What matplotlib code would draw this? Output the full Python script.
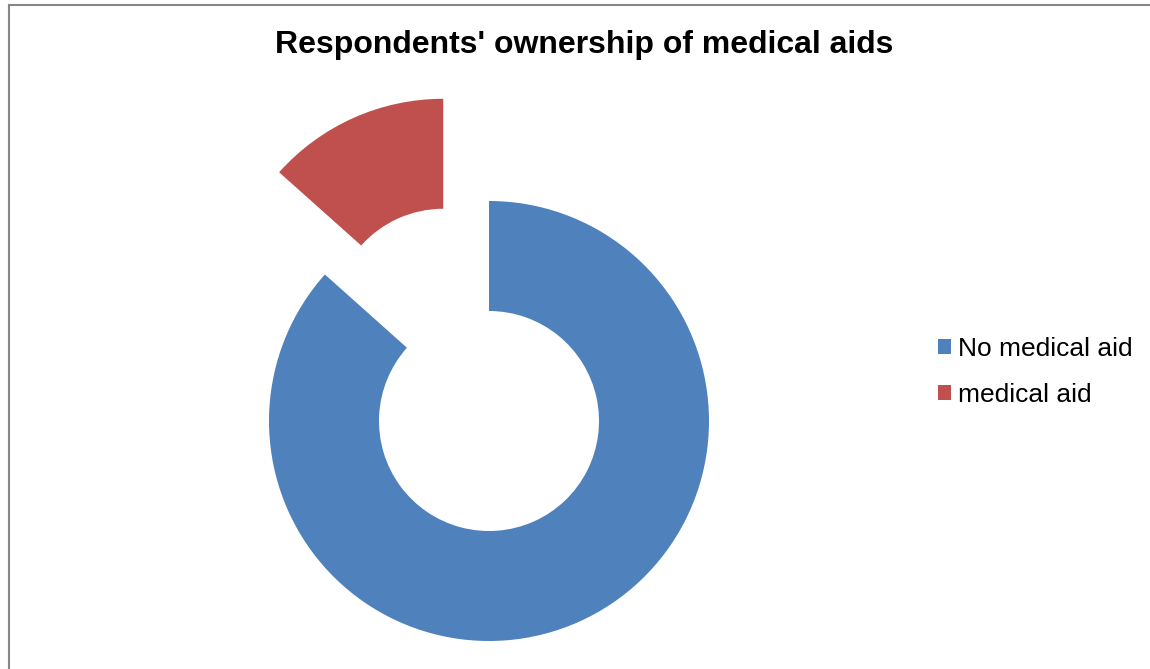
import matplotlib.pyplot as plt
from matplotlib.patches import Patch
from matplotlib.lines import Line2D

# data (share of respondents, %)
labels = ["No medical aid", "medical aid"]
shares = [86.6, 13.4]
colors = ["#4F81BD", "#C0504D"]

plt.rcParams["font.family"] = ["Liberation Sans", "DejaVu Sans"]

fig = plt.figure(figsize=(11.5, 6.69), dpi=100)
ax = fig.add_axes([0, 0, 1, 1])

# pixel-like coordinates, y going up
cx, cy, r = 489, 669 - 421, 220
ax.pie(shares, colors=colors, startangle=90, counterclock=False,
       center=(cx, cy), radius=r, explode=[0, 112],
       wedgeprops=dict(width=r * 0.5, linewidth=0))
ax.set_xlim(0, 1150)
ax.set_ylim(0, 669)
ax.set_aspect("equal")
ax.axis("off")

fig.text(584 / 1150, 1 - 45 / 669, "Respondents' ownership of medical aids",
         ha="center", va="center", fontsize=23, fontweight="bold")

handles = [Patch(facecolor=c, edgecolor="none") for c in colors]
ax.legend(handles, labels, loc="center left",
          bbox_to_anchor=(925 / 1150, 1 - 372 / 669),
          frameon=False, fontsize=19, borderpad=0,
          handlelength=0.5, handleheight=0.5, handletextpad=0.25,
          labelspacing=0.85)

# chart border (left and top edges visible)
fig.add_artist(Line2D([8.5 / 1150, 8.5 / 1150], [0, 1 - 5 / 669],
                      transform=fig.transFigure, color="#868686", lw=1.5))
fig.add_artist(Line2D([8.5 / 1150, 1], [1 - 5 / 669, 1 - 5 / 669],
                      transform=fig.transFigure, color="#868686", lw=1.5))

fig.savefig("out.png", dpi=100)
